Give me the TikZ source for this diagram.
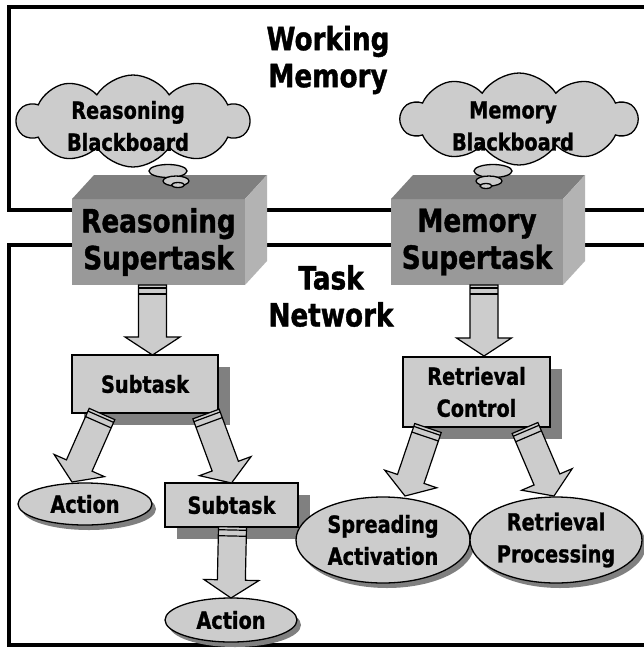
\documentclass[tikz,border=0pt]{standalone}
\usepackage{fontspec}
\setmainfont{DejaVu Sans}[FakeStretch=0.82, BoldFeatures={FakeBold=1.2}]
\usetikzlibrary{shapes.symbols,shapes.geometric,calc,shadows}

\definecolor{lightfill}{HTML}{CCCCCC}
\definecolor{shadowgray}{HTML}{808080}
\definecolor{blockfront}{HTML}{999999}
\definecolor{blocktop}{HTML}{7F7F7F}
\definecolor{blockside}{HTML}{B3B3B3}

\tikzset{
  frame/.style={draw=black, line width=4pt},
  bigtext/.style={font=\bfseries\fontsize{32}{37}\selectfont, align=center, inner sep=0pt},
  smalltext/.style={font=\bfseries\fontsize{23.5}{32}\selectfont, align=center, inner sep=0pt},
  thought/.style={cloud, cloud puffs=10, cloud puff arc=115, cloud ignores aspect,
    draw, line width=1.3pt, fill=lightfill, inner sep=0pt},
  bubble/.style={ellipse, draw, line width=1.3pt, fill=lightfill, inner sep=0pt},
  blockface/.style={rectangle, fill=blockfront, inner sep=0pt, outer sep=0pt,
    font=\bfseries\fontsize{32}{37}\selectfont, align=center},
  taskbox/.style={rectangle, draw, line width=1.3pt, fill=lightfill, inner sep=0pt,
    outer sep=0pt, smalltext,
    drop shadow={shadow xshift=12pt, shadow yshift=-12pt, opacity=1, fill=shadowgray}},
  oval/.style={ellipse, draw, line width=1.3pt, fill=lightfill, inner sep=0pt, outer sep=0pt,
    drop shadow={shadow xshift=4pt, shadow yshift=-5pt, opacity=1, fill=shadowgray}},
  arrowbody/.style={draw, line width=1.2pt, fill=lightfill, line join=miter},
  arrowband/.style={draw, line width=1.2pt},
}

% block arrow: #1 name, #2 tail, #3 tip
\newcommand\fatarrow[3]{%
  \coordinate (#1-t) at #2;
  \coordinate (#1-p) at #3;
  \coordinate (#1-h) at ($(#1-p)!18pt!(#1-t)$);
  \coordinate (#1-s1) at ($(#1-t)!3pt!(#1-p)$);
  \coordinate (#1-s2) at ($(#1-t)!9pt!(#1-p)$);
  \draw[arrowbody] ($(#1-t)!14pt!90:(#1-p)$) -- ($(#1-h)!14pt!-90:(#1-t)$)
    -- ($(#1-h)!27.5pt!-90:(#1-t)$) -- (#1-p) -- ($(#1-h)!27.5pt!90:(#1-t)$)
    -- ($(#1-h)!14pt!90:(#1-t)$) -- ($(#1-t)!14pt!-90:(#1-p)$) -- cycle;
  \draw[arrowband] ($(#1-s1)!14pt!90:(#1-p)$) -- ($(#1-s1)!14pt!-90:(#1-p)$);
  \draw[arrowband] ($(#1-s2)!14pt!90:(#1-p)$) -- ($(#1-s2)!14pt!-90:(#1-p)$);
}

\begin{document}
\begin{tikzpicture}[x=1pt, y=-1pt]
  \useasboundingbox (0,0) rectangle (644,649);
  \fill[white] (0,0) rectangle (644,649);
  \clip (0,0) rectangle (644,649);

  % the two regions
  \draw[frame] (9,7) rectangle (680,210);
  \draw[frame] (9,245) rectangle (680,645);
  \node[bigtext] (wm) at (328,60) {Working\\Memory};
  \node[bigtext] (tn) at (331,296) {Task\\Network};

  % supertask blocks
  \node[blockface, minimum width=173pt, minimum height=86pt] (rs) at (158.5,242) {Reasoning\\Supertask};
  \fill[blocktop] (rs.north west) -- ++(22,-24) -- ++(173,0) -- (rs.north east) -- cycle;
  \fill[blockside] (rs.north east) -- ++(22,-24) -- ++(0,86) -- (rs.south east) -- cycle;

  \node[blockface, minimum width=172pt, minimum height=86pt] (ms) at (477,242) {Memory\\Supertask};
  \fill[blocktop] (ms.north west) -- ++(22,-24) -- ++(172,0) -- (ms.north east) -- cycle;
  \fill[blockside] (ms.north east) -- ++(22,-24) -- ++(0,86) -- (ms.south east) -- cycle;

  % blackboards
  \node[thought, minimum width=232pt, minimum height=92pt] (rb) at (133,121) {};
  \node[smalltext] (rbt) at (128,126) {Reasoning\\Blackboard};
  \node[bubble, minimum width=38pt, minimum height=13pt] (rb1) at (168,171) {};
  \node[bubble, minimum width=26pt, minimum height=10pt] (rb2) at (176,181) {};
  \node[bubble, minimum width=13pt, minimum height=5pt] (rb3) at (178,185) {};

  \node[thought, minimum width=236pt, minimum height=92pt] (mb) at (519,119) {};
  \node[smalltext] (mbt) at (513,126) {Memory\\Blackboard};
  \node[bubble, minimum width=38pt, minimum height=13pt] (mb1) at (493,171) {};
  \node[bubble, minimum width=26pt, minimum height=10pt] (mb2) at (489,181) {};
  \node[bubble, minimum width=12pt, minimum height=5pt] (mb3) at (486,186) {};

  % task network
  \node[taskbox, minimum width=146pt, minimum height=58pt] (st1) at (145,384) {Subtask};
  \node[taskbox, minimum width=147pt, minimum height=70pt] (rc) at (476.5,392) {Retrieval\\Control};
  \node[taskbox, minimum width=133pt, minimum height=44pt] (st2) at (231.5,505) {Subtask};

  \node[oval, minimum width=134pt, minimum height=42pt,
    label={[smalltext]center:Action}] (act1) at (85,504) {};
  \node[oval, minimum width=132pt, minimum height=44pt,
    label={[smalltext]center:Action}] (act2) at (231,620) {};
  \node[oval, minimum width=174pt, minimum height=86pt,
    label={[smalltext]center:{Spreading\\Activation}}] (sa) at (383,540) {};
  \node[oval, minimum width=172pt, minimum height=86pt,
    label={[smalltext]center:{Retrieval\\Processing}}] (rp) at (556,540) {};

  % connectors
  \fatarrow{a1}{($(rs.south)+(-6,0)$)}{($(st1.north)+(7.5,0)$)}
  \fatarrow{a2}{($(ms.south)+(7,0)$)}{($(rc.north)+(7.5,-1)$)}
  \fatarrow{a3}{($(st1.south west)+(30,1)$)}{($(act1.north)+(-13,-1)$)}
  \fatarrow{a4}{($(st1.south east)+(-12,1)$)}{(st2.north)}
  \fatarrow{a5}{($(st2.south)+(1,0)$)}{(act2.north)}
  \fatarrow{a6}{($(rc.south west)+(25,1)$)}{($(sa.north)+(22,-1)$)}
  \fatarrow{a7}{($(rc.south east)+(-25,1)$)}{($(rp.north)+(-2,-1)$)}
\end{tikzpicture}
\end{document}
